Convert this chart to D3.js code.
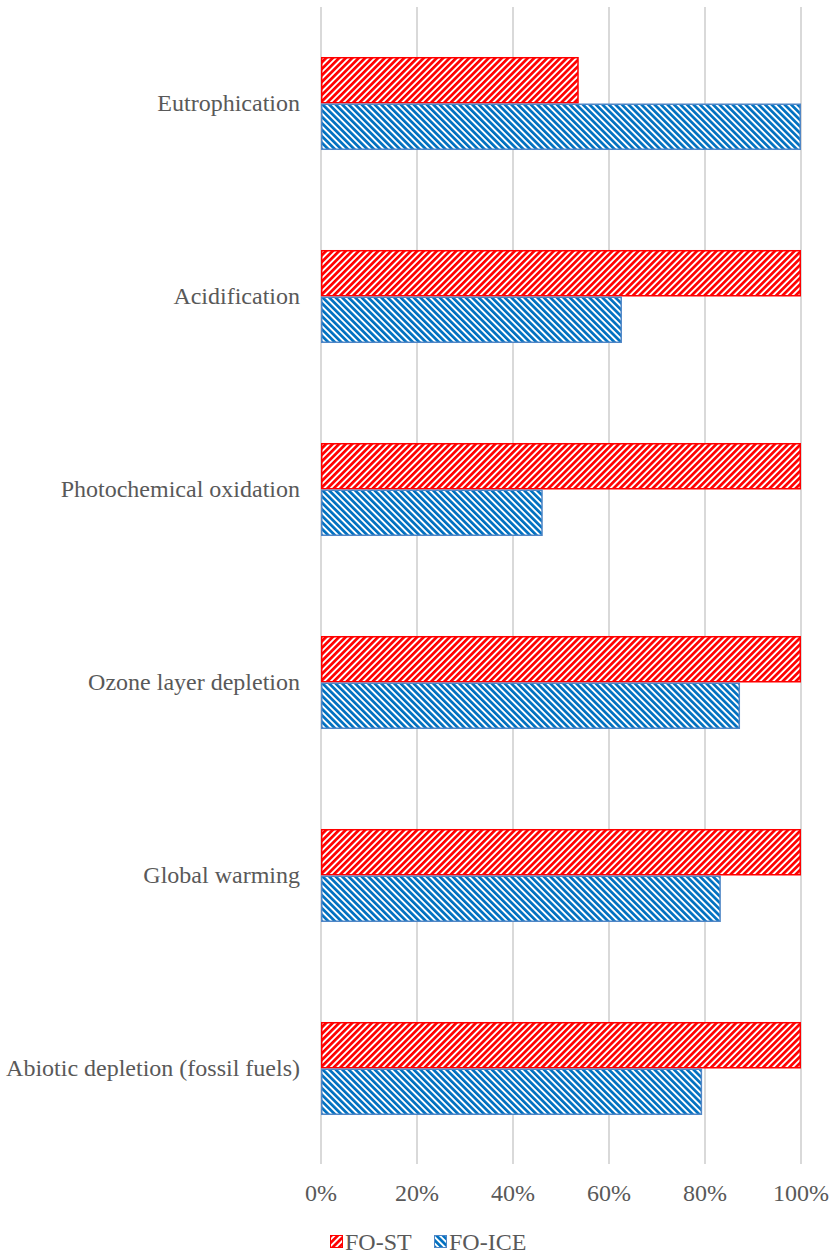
<!DOCTYPE html>
<html>
<head>
<meta charset="utf-8">
<script src="https://cdn.jsdelivr.net/npm/d3@7"></script>
<style>
  body { margin: 0; background: #fff; }
  svg { display: block; }
  svg text { font-family: "Liberation Serif", "Times New Roman", serif; }
</style>
</head>
<body>
<div id="chart"></div>
<script>
// Chart data (share of the larger value, per impact category)
const categories = [
    'Eutrophication',
    'Acidification',
    'Photochemical oxidation',
    'Ozone layer depletion',
    'Global warming',
    'Abiotic depletion (fossil fuels)'
];
const seriesNames = ['FO-ST', 'FO-ICE'];
const foST = [53.7, 100, 100, 100, 100, 100];
const foICE = [100, 62.7, 46.2, 87.3, 83.3, 79.4];
const xTicks = [0, 20, 40, 60, 80, 100];

const width = 835;
const height = 1256;
const textColor = '#595959';
const fontSize = '24px';

const svg = d3.select('#chart')
    .append('svg')
    .attr('width', width)
    .attr('height', height);

// Hatch patterns: red upward diagonal, blue downward diagonal
const defs = svg.append('defs');
function hatch(id, color, angle) {
    const size = 4.6;
    const p = defs.append('pattern')
        .attr('id', id)
        .attr('patternUnits', 'userSpaceOnUse')
        .attr('width', size)
        .attr('height', size)
        .attr('patternTransform', `rotate(${angle})`);
    p.append('rect').attr('width', size).attr('height', size).attr('fill', '#fff');
    p.append('rect').attr('width', 2.7).attr('height', size).attr('fill', color);
}
hatch('hatch-red', '#ff0000', 45);
hatch('hatch-blue', '#0070c0', -45);

const colors = [
    { fill: 'url(#hatch-red)', stroke: '#ff0000' },
    { fill: 'url(#hatch-blue)', stroke: '#4f86c6' }
];

const x = d3.scaleLinear().domain([0, 100]).range([321, 801]);

const y = d3.scaleBand()
    .domain(categories)
    .range([7, 1165])
    .paddingInner(0.518)
    .paddingOuter(0.259);

const ySub = d3.scaleBand()
    .domain(seriesNames)
    .range([0, y.bandwidth()]);

// Gridlines
svg.append('g')
    .selectAll('line')
    .data(xTicks)
    .join('line')
    .attr('x1', d => x(d))
    .attr('x2', d => x(d))
    .attr('y1', 7)
    .attr('y2', 1164)
    .attr('stroke', '#d9d9d9')
    .attr('stroke-width', 2);

// Bars
const rows = categories.map((c, i) => ({ cat: c, values: [foST[i], foICE[i]] }));
const groups = svg.append('g')
    .selectAll('g')
    .data(rows)
    .join('g')
    .attr('transform', d => `translate(0,${y(d.cat)})`);

groups.selectAll('rect')
    .data(d => d.values.map((v, i) => ({ v, s: seriesNames[i], i })))
    .join('rect')
    .attr('x', x(0) + 0.75)
    .attr('y', d => ySub(d.s) + 0.75)
    .attr('width', d => x(d.v) - x(0) - 1.5)
    .attr('height', ySub.bandwidth() - 1.5)
    .attr('fill', d => colors[d.i].fill)
    .attr('stroke', d => colors[d.i].stroke)
    .attr('stroke-width', 1.5);

// Category labels
svg.append('g')
    .selectAll('text')
    .data(categories)
    .join('text')
    .attr('x', 300)
    .attr('y', d => y(d) + y.bandwidth() / 2)
    .attr('dy', '0.33em')
    .attr('text-anchor', 'end')
    .attr('font-size', fontSize)
    .attr('fill', textColor)
    .text(d => d);

// X tick labels
svg.append('g')
    .selectAll('text')
    .data(xTicks)
    .join('text')
    .attr('x', d => x(d))
    .attr('y', 1201)
    .attr('text-anchor', 'middle')
    .attr('font-size', fontSize)
    .attr('fill', textColor)
    .text(d => d + '%');

// Legend
const legendItems = [
    { name: 'FO-ST', x: 330, c: colors[0] },
    { name: 'FO-ICE', x: 434, c: colors[1] }
];
const legend = svg.append('g')
    .selectAll('g')
    .data(legendItems)
    .join('g')
    .attr('transform', d => `translate(${d.x},1235)`);
legend.append('rect')
    .attr('x', 0.5)
    .attr('y', 0.5)
    .attr('width', 12)
    .attr('height', 12)
    .attr('fill', d => d.c.fill)
    .attr('stroke', d => d.c.stroke)
    .attr('stroke-width', 1);
legend.append('text')
    .attr('x', 15)
    .attr('y', 15)
    .attr('font-size', fontSize)
    .attr('fill', textColor)
    .text(d => d.name);
</script>
</body>
</html>
